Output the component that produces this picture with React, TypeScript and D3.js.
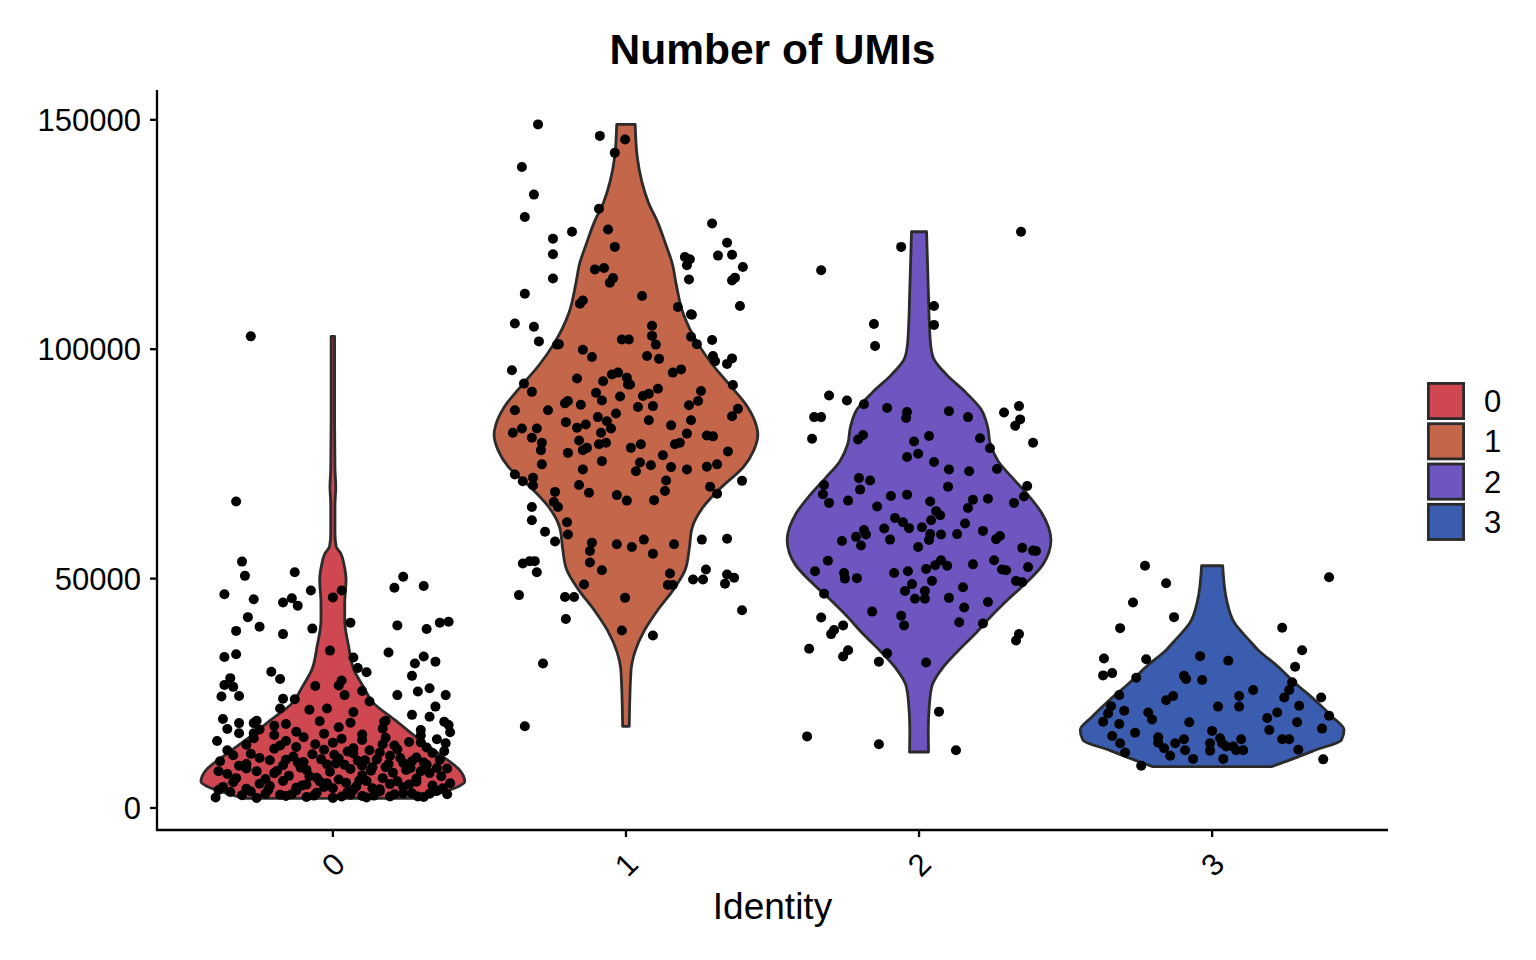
import React from 'react'
import * as d3 from 'd3'

// cluster identities and their fill colours
const idents = ['0', '1', '2', '3']
const fills = ['#CF4751', '#C4664A', '#6F55C0', '#3A5DAF']
const yTicks = [0, 50000, 100000, 150000]

// violin outlines: [nUMI, relative half width]
const violin0: [number, number][] = [
  [2100, 0.68], [3000, 0.78], [3900, 0.88], [4800, 0.96], [5700, 1.0], [7000, 0.99], [8300, 0.96],
  [11900, 0.8], [15500, 0.63], [19200, 0.47], [22800, 0.31], [26500, 0.23], [30100, 0.16],
  [35200, 0.12], [41000, 0.09], [44600, 0.09], [49700, 0.1], [53000, 0.085], [55500, 0.06],
  [57000, 0.025], [60000, 0.016], [66000, 0.016], [70000, 0.022], [74000, 0.016], [85000, 0.013],
  [102800, 0.013],
]
const violin1: [number, number][] = [
  [17800, 0.025], [29800, 0.038], [34200, 0.07], [38700, 0.14], [43100, 0.24], [47600, 0.36],
  [52000, 0.45], [56500, 0.48], [60900, 0.5], [65400, 0.58], [69800, 0.72], [74300, 0.89],
  [78000, 0.97], [81400, 1.0], [83200, 0.99], [87500, 0.92], [92100, 0.79], [96500, 0.66],
  [101000, 0.55], [108100, 0.43], [114300, 0.38], [118800, 0.35], [123000, 0.3], [127700, 0.24],
  [132000, 0.17], [136600, 0.12], [142000, 0.085], [149000, 0.07],
]
const violin2: [number, number][] = [
  [12200, 0.072], [17000, 0.07], [23100, 0.08], [26800, 0.1], [30600, 0.18], [34400, 0.3],
  [38100, 0.43], [41900, 0.55], [45600, 0.68], [49300, 0.82], [53100, 0.94], [58400, 1.0],
  [64300, 0.93], [68100, 0.83], [71900, 0.71], [75600, 0.6], [79400, 0.54], [83100, 0.52],
  [86900, 0.47], [90700, 0.35], [94400, 0.21], [98200, 0.107], [101900, 0.085], [113200, 0.07],
  [125600, 0.057],
]
const violin3: [number, number][] = [
  [9000, 0.45], [10800, 0.62], [12600, 0.78], [14800, 0.98], [17000, 1.0], [19900, 0.91],
  [23500, 0.78], [27200, 0.63], [30800, 0.5], [34400, 0.35], [36600, 0.28], [40300, 0.17],
  [45300, 0.11], [52800, 0.08],
]

// cells: [jitter (category units), nUMI]
const cells0: [number, number][] = [
  [-0.28, 102800], [-0.33, 66800], [-0.31, 53700], [-0.3, 50600], [-0.37, 46600], [-0.27, 45500],
  [-0.29, 41600], [-0.33, 38600], [-0.25, 39500], [-0.37, 32900], [-0.33, 33500], [-0.13, 51400],
  [-0.17, 44800], [-0.14, 45700], [-0.12, 44100], [-0.17, 37900], [-0.075, 47400], [-0.07, 39100],
  [0.0, 45900], [0.03, 47400], [0.06, 40400], [-0.01, 34300], [-0.21, 29700], [-0.18, 28100],
  [-0.35, 28300], [-0.37, 26800], [-0.34, 26400], [-0.38, 24300], [-0.32, 24400], [-0.17, 23800],
  [-0.13, 23700], [-0.18, 21700], [-0.06, 26600], [0.03, 27800], [0.02, 26700], [0.04, 24600],
  [0.07, 32800], [0.085, 30500], [0.115, 29600], [0.1, 25500], [0.125, 23200], [-0.08, 21400],
  [-0.02, 21700], [0.07, 20900], [0.19, 33900], [0.21, 48000], [0.24, 50400], [0.31, 48400],
  [0.22, 39800], [0.32, 39000], [0.365, 40400], [0.395, 40600], [0.31, 33000], [0.28, 31500],
  [0.35, 31900], [0.27, 28800], [0.29, 25400], [0.33, 26100], [0.385, 24600], [0.22, 24600],
  [0.35, 22100], [0.27, 20300], [0.33, 19900], [0.38, 18800], [0.395, 18100], [0.4, 16500],
  [0.3, 17000], [0.175, 18800], [-0.375, 19400], [-0.36, 17200], [-0.32, 18500], [-0.32, 16300],
  [-0.395, 14600], [-0.27, 18500], [-0.26, 19000], [-0.27, 16300], [-0.2, 17900], [0.385, 14100],
  [-0.295, 13800], [-0.27, 15200], [-0.2, 12900], [-0.16, 14600], [-0.125, 13300], [-0.1, 15400],
  [-0.03, 12700], [0, 14200], [0.03, 15100], [0.07, 13000], [0.1, 14800], [0.125, 12600],
  [0.17, 13900], [0.18, 15300], [0.22, 12800], [0.26, 14400], [0.32, 13200], [0.355, 15000],
  [0.38, 12400],
  [-0.385, 10200], [-0.34, 11500], [-0.295, 9600], [-0.28, 11800], [-0.215, 10400], [-0.17, 9300],
  [-0.135, 11200], [-0.1, 10000], [-0.07, 11700], [-0.02, 9500], [0.02, 10800], [0.07, 11900],
  [0.1, 9200], [0.15, 10600], [0.195, 11400], [0.24, 9800], [0.285, 11000], [0.32, 9400],
  [0.365, 10500],
  [-0.36, 7400], [-0.295, 8600], [-0.23, 6300], [-0.19, 8100], [-0.15, 7000], [-0.11, 8800],
  [-0.055, 6600], [-0.01, 7900], [0.02, 6200], [0.06, 8500], [0.1, 7100], [0.135, 8900],
  [0.17, 6500], [0.205, 7700], [0.25, 8300], [0.285, 6400], [0.33, 7600], [0.355, 8700],
  [-0.375, 4600], [-0.34, 5600], [-0.295, 4200], [-0.25, 5300], [-0.215, 4800], [-0.17, 5900],
  [-0.125, 4400], [-0.09, 5100], [-0.045, 5800], [0, 4300], [0.045, 5500], [0.08, 4700],
  [0.115, 5900], [0.16, 4100], [0.195, 5200], [0.24, 4500], [0.285, 5700], [0.34, 4900],
  [0.375, 4300], [0.4, 5400],
  [-0.4, 2300], [-0.35, 3500], [-0.26, 2200], [-0.23, 3100], [-0.16, 2600], [-0.125, 3800],
  [-0.09, 2400], [-0.055, 3300], [0, 2200], [0.06, 2900], [0.115, 2300], [0.16, 3600],
  [0.195, 2500], [0.24, 3200], [0.31, 2400], [0.355, 3700],
  [-0.25, 17100], [-0.2, 15900], [-0.16, 18300], [-0.125, 16600], [-0.045, 18900], [-0.03, 16200],
  [0.02, 17600], [0.06, 18600], [0.1, 16000], [0.17, 17300], [0.18, 19000], [0.3, 15800],
  [-0.33, 6500], [-0.28, 3600], [-0.2, 7600], [-0.14, 3000], [-0.08, 6900], [-0.03, 4600],
  [0.01, 9700], [0.05, 3500], [0.09, 6000], [0.14, 2700], [0.18, 8900], [0.22, 5800],
  [0.27, 3200], [0.3, 8000], [0.37, 6900],
  [-0.36, 12600], [-0.25, 10900], [-0.18, 13600], [-0.12, 9900], [-0.06, 13900], [0.005, 11600],
  [0.05, 12300], [0.11, 10400], [0.16, 12100], [0.21, 13600], [0.27, 10200], [0.3, 14300],
  [0.34, 12000],
  [-0.39, 3900], [-0.31, 2800], [-0.22, 4000], [-0.18, 2900], [-0.105, 4900], [-0.065, 2700],
  [-0.02, 5400], [0.03, 2500], [0.07, 4000], [0.1, 2600], [0.135, 4300], [0.21, 3000],
  [0.26, 5100], [0.29, 2500], [0.33, 3100], [0.39, 3000],
  [-0.39, 8000], [-0.32, 9200], [-0.26, 8000], [-0.16, 10500], [-0.09, 8300], [-0.04, 10600],
  [0.04, 9400], [0.085, 10300], [0.13, 8100], [0.19, 9600], [0.23, 10900], [0.265, 8700],
  [0.31, 9900], [0.39, 8600],
]
const cells1: [number, number][] = [
  [-0.3, 149000], [-0.089, 146500], [-0.003, 145700], [-0.038, 142800], [-0.355, 139700],
  [-0.314, 133700], [-0.345, 128800], [-0.092, 130600], [-0.249, 124100], [-0.184, 125600],
  [-0.249, 120700], [-0.249, 115400], [-0.061, 126100], [-0.038, 122300], [-0.106, 117400],
  [-0.075, 117700], [-0.055, 114500], [-0.044, 115500], [-0.345, 112100], [0.055, 111600],
  [-0.157, 109900], [-0.147, 110600],
  [0.294, 127400], [0.345, 123200], [0.314, 120400], [0.362, 120600], [0.399, 117900],
  [0.372, 115600], [0.362, 115000], [0.389, 109400], [0.201, 120100], [0.218, 119600],
  [0.208, 118300], [0.215, 115200], [0.177, 109200], [0.225, 107500],
  [-0.379, 105600], [-0.314, 104900], [-0.297, 101700], [-0.229, 101100], [-0.389, 95400],
  [-0.348, 92500], [-0.321, 90700], [-0.379, 86700], [-0.386, 81800], [-0.355, 82700],
  [-0.304, 82700], [-0.321, 80700], [-0.287, 79600], [-0.29, 78000], [-0.287, 74900],
  [-0.379, 72700], [-0.352, 71200], [-0.317, 72000], [-0.317, 70300], [-0.266, 86700],
  [-0.242, 68900], [-0.246, 66700], [-0.232, 65600], [-0.321, 65600], [-0.321, 62700],
  [-0.201, 62300], [-0.198, 59600], [-0.276, 60200], [-0.242, 58100], [-0.352, 53300],
  [-0.328, 53800], [-0.311, 53800], [-0.304, 51400], [-0.365, 46400], [-0.208, 46000],
  [-0.177, 46000], [-0.205, 41200], [-0.283, 31500], [-0.345, 17800],
  [-0.014, 38700], [-0.003, 45800], [0.092, 37600], [-0.143, 48700], [-0.116, 57800],
  [-0.123, 56000], [-0.123, 53500], [-0.082, 51800], [-0.031, 57500], [0.02, 56900],
  [0.061, 58500], [0.092, 55400], [0.164, 57500], [0.15, 51100], [0.143, 48600], [0.16, 48600],
  [0.259, 58500], [0.345, 58700], [0.229, 49800], [0.263, 49800], [0.273, 52000], [0.338, 48900],
  [0.345, 50900], [0.369, 50200], [0.396, 43100],
  [0.396, 71300], [0.311, 68500], [0.287, 70000], [0.348, 77700], [0.311, 74900], [0.276, 74400],
  [0.208, 73800], [0.297, 81000], [0.276, 81200], [0.362, 85400], [0.382, 87000], [0.365, 92200],
  [0.345, 96800], [0.362, 98000], [0.304, 97400], [0.297, 98500], [0.294, 102000], [0.242, 101100],
  [0.222, 102700], [0.222, 107600],
  [0.256, 90900], [0.246, 88700], [0.215, 87800], [0.222, 84500], [0.208, 81600], [0.184, 79600],
  [0.167, 79300], [0.154, 83400], [0.16, 94900], [0.188, 95600], [0.089, 105100], [0.089, 102900],
  [0.102, 101000], [0.113, 97900], [0.072, 98500], [-0.014, 102100], [0.01, 102100],
  [-0.147, 99900], [-0.116, 98300], [-0.167, 93600], [-0.078, 93000], [-0.048, 94500],
  [-0.027, 94900], [0.003, 93800], [0.014, 92300], [-0.102, 90500], [-0.082, 88800],
  [-0.02, 89700], [-0.034, 86000], [-0.198, 88700], [-0.208, 88200], [-0.154, 87900],
  [-0.205, 84100], [-0.167, 82900], [-0.137, 83600], [-0.096, 85200], [-0.065, 84300],
  [-0.051, 82700], [-0.16, 80100], [-0.198, 77400], [-0.147, 78000], [-0.133, 78500],
  [-0.092, 79300], [-0.068, 79600], [-0.082, 75600], [-0.147, 73800], [-0.16, 70400],
  [-0.126, 68700], [-0.031, 68200], [0.003, 67000], [0.017, 78500], [0.051, 79300],
  [0.048, 75300], [0.034, 73400], [0.085, 74700], [0.126, 76900], [0.154, 74300], [0.137, 71400],
  [0.133, 69100], [0.096, 67100], [0.041, 87400], [0.078, 84500], [0.092, 87600], [0.058, 89800],
  [0.078, 90300], [0.109, 91400], [0.007, 92300], [-0.085, 81800], [-0.235, 101000],
]
const cells2: [number, number][] = [
  [0.348, 125600], [-0.061, 122300], [-0.334, 117200], [0.051, 109400], [0.051, 105300],
  [-0.154, 105500], [-0.15, 100700], [-0.307, 89900], [-0.246, 88800], [-0.188, 88000],
  [-0.358, 85200], [-0.334, 85200], [-0.365, 80500], [-0.208, 80300], [-0.191, 81300],
  [-0.109, 87200], [-0.041, 86300], [-0.044, 85000], [0.102, 86500], [0.167, 85200],
  [0.29, 86200], [0.341, 87600], [0.345, 84700], [0.328, 83300], [0.389, 79600], [0.034, 81100],
  [-0.017, 79900], [-0.003, 77200], [-0.041, 76500], [0.208, 80600], [0.242, 78400],
  [0.266, 73900], [0.051, 75400], [0.102, 73800], [0.171, 73400], [0.099, 70000],
  [-0.205, 71900], [-0.167, 71400], [-0.201, 69400], [-0.324, 70400], [-0.328, 68400],
  [-0.307, 66500], [-0.242, 67000], [-0.143, 65700], [-0.096, 68000], [-0.041, 68300],
  [0.038, 66800], [0.058, 64700], [0.072, 63800], [0.041, 62700], [-0.082, 63200],
  [-0.055, 62300], [-0.034, 61000], [-0.119, 60900], [0.01, 61200], [0.038, 59700],
  [0.075, 59600], [0.034, 58400], [-0.099, 58500], [-0.003, 56900], [-0.188, 60600],
  [-0.181, 59600], [-0.215, 59100], [-0.263, 58200], [-0.198, 57200], [0.184, 67200],
  [0.167, 65400], [0.157, 62000], [0.13, 59700], [0.235, 67400], [0.324, 66500], [0.358, 67900],
  [0.369, 70200], [0.218, 60400], [0.276, 59300], [0.263, 58600], [0.352, 56700], [0.389, 56100],
  [0.399, 56000], [0.372, 52500], [0.331, 49500], [0.352, 49200], [0.283, 52000], [0.256, 54000],
  [0.297, 51800], [0.184, 53100], [0.15, 48100], [0.102, 45800], [0.154, 43700], [0.235, 44900],
  [0.137, 40500], [0.218, 40200], [0.096, 52800], [0.075, 54000], [0.055, 52900], [0.024, 52100],
  [0.044, 49500], [0.02, 47300], [0.02, 45600], [-0.014, 45600], [-0.024, 48800],
  [-0.048, 47300], [-0.038, 51600], [-0.085, 51200], [-0.256, 51200], [-0.253, 50000],
  [-0.212, 50100], [-0.311, 53900], [-0.355, 51600], [-0.324, 46700], [-0.334, 41500],
  [-0.16, 42800], [-0.061, 41900], [-0.051, 39800], [-0.259, 39800], [-0.29, 38800],
  [-0.3, 37900], [-0.375, 34700], [-0.242, 34400], [-0.259, 33000], [-0.109, 33700],
  [-0.137, 31900], [0.024, 31700], [0.341, 37900], [0.331, 36500], [0.068, 21000],
  [-0.382, 15600], [-0.137, 13900], [0.126, 12600],
]
const cells3: [number, number][] = [
  [-0.229, 52800], [-0.157, 49000], [-0.27, 44800], [-0.13, 41600], [-0.314, 39200],
  [0.399, 50300], [0.239, 39300], [0.307, 34400], [0.283, 30800], [0.273, 27400], [0.263, 25700],
  [-0.369, 32600], [-0.225, 32400], [-0.372, 28900], [-0.341, 29400], [-0.259, 28400],
  [-0.041, 33100], [0.055, 32100], [-0.096, 28800], [-0.089, 28100], [-0.034, 27900],
  [0.14, 25700], [0.092, 24400], [0.092, 22100], [0.02, 22100], [-0.133, 24400], [-0.157, 23500],
  [-0.317, 24600], [-0.345, 22200], [-0.355, 20600], [-0.372, 18800], [-0.3, 21200],
  [-0.218, 20800], [-0.205, 19300], [-0.317, 18300], [-0.341, 15700], [-0.263, 16400],
  [-0.314, 14100], [-0.297, 12100], [-0.242, 9200], [-0.184, 15400], [-0.184, 14200],
  [-0.164, 13000], [-0.143, 11400], [-0.126, 14100], [-0.096, 15000], [-0.092, 12600],
  [-0.065, 10700], [-0.078, 18700], [0, 16800], [-0.007, 14100], [-0.007, 12500], [0.027, 15200],
  [0.034, 14100], [0.048, 13400], [0.038, 10700], [0.072, 13400], [0.099, 15000], [0.106, 12600],
  [0.082, 12600], [0.188, 19600], [0.195, 17000], [0.222, 20800], [0.246, 24100], [0.239, 15000],
  [0.263, 15000], [0.297, 22300], [0.29, 18700], [0.294, 12700], [0.372, 24100], [0.399, 20100],
  [0.375, 17300], [0.379, 10600],
]

const violins = [violin0, violin1, violin2, violin3]
const cells = [cells0, cells1, cells2, cells3]

const W = 1536
const H = 960
const font = '"Liberation Sans", Arial, Helvetica, sans-serif'

export default function App() {
  const x = d3.scalePoint<string>().domain(idents).range([157, 1388]).padding(0.6)
  const y = d3.scaleLinear().domain([-4800, 156500]).range([830, 90])
  const step = x.step()
  const half = 0.45 * step

  const makeViolin = (cx: number, prof: [number, number][]) =>
    d3.area<[number, number]>()
      .y(d => y(d[0]))
      .x0(d => cx - d[1] * half)
      .x1(d => cx + d[1] * half)
      .curve(d3.curveMonotoneY)(prof) || ''

  return (
    <svg width={W} height={H} style={{ position: 'absolute', left: 0, top: 0, background: '#fff' }}
      fontFamily={font}>
      <text x={772.5} y={64} textAnchor="middle" fontSize={42.5} fontWeight="bold">Number of UMIs</text>

      {violins.map((prof, i) => (
        <path key={'v' + i} d={makeViolin(x(idents[i])!, prof)} fill={fills[i]}
          stroke="#2b2b2b" strokeWidth={2.8} strokeLinejoin="round" />
      ))}

      {cells.map((pts, i) => pts.map((p, k) => (
        <circle key={`c${i}-${k}`} cx={x(idents[i])! + p[0] * step} cy={y(p[1])} r={5} fill="#000" />
      )))}

      {/* axes */}
      <line x1={157} x2={157} y1={90} y2={831} stroke="#000" strokeWidth={2.3} />
      <line x1={156} x2={1388} y1={830} y2={830} stroke="#000" strokeWidth={2.3} />
      {yTicks.map(t => (
        <g key={'yt' + t}>
          <line x1={150} x2={157} y1={y(t)} y2={y(t)} stroke="#000" strokeWidth={2.3} />
          <text x={141} y={y(t)} dy="0.36em" textAnchor="end" fontSize={31}>{t}</text>
        </g>
      ))}
      {idents.map(id => (
        <g key={'xt' + id}>
          <line x1={x(id)} x2={x(id)} y1={830} y2={837} stroke="#000" strokeWidth={2.3} />
          <text transform={`translate(${x(id)! + 14},866) rotate(-45)`} textAnchor="end" fontSize={31}>{id}</text>
        </g>
      ))}
      <text x={772.5} y={919} textAnchor="middle" fontSize={37}>Identity</text>

      {/* legend */}
      {idents.map((id, i) => (
        <g key={'lg' + id} transform={`translate(1427,${382 + i * 40.3})`}>
          <rect x={1.4} y={1.4} width={35.2} height={35.2} fill={fills[i]} stroke="#2b2b2b" strokeWidth={2.8} />
          <text x={57} y={19} dy="0.36em" fontSize={31}>{id}</text>
        </g>
      ))}
    </svg>
  )
}
